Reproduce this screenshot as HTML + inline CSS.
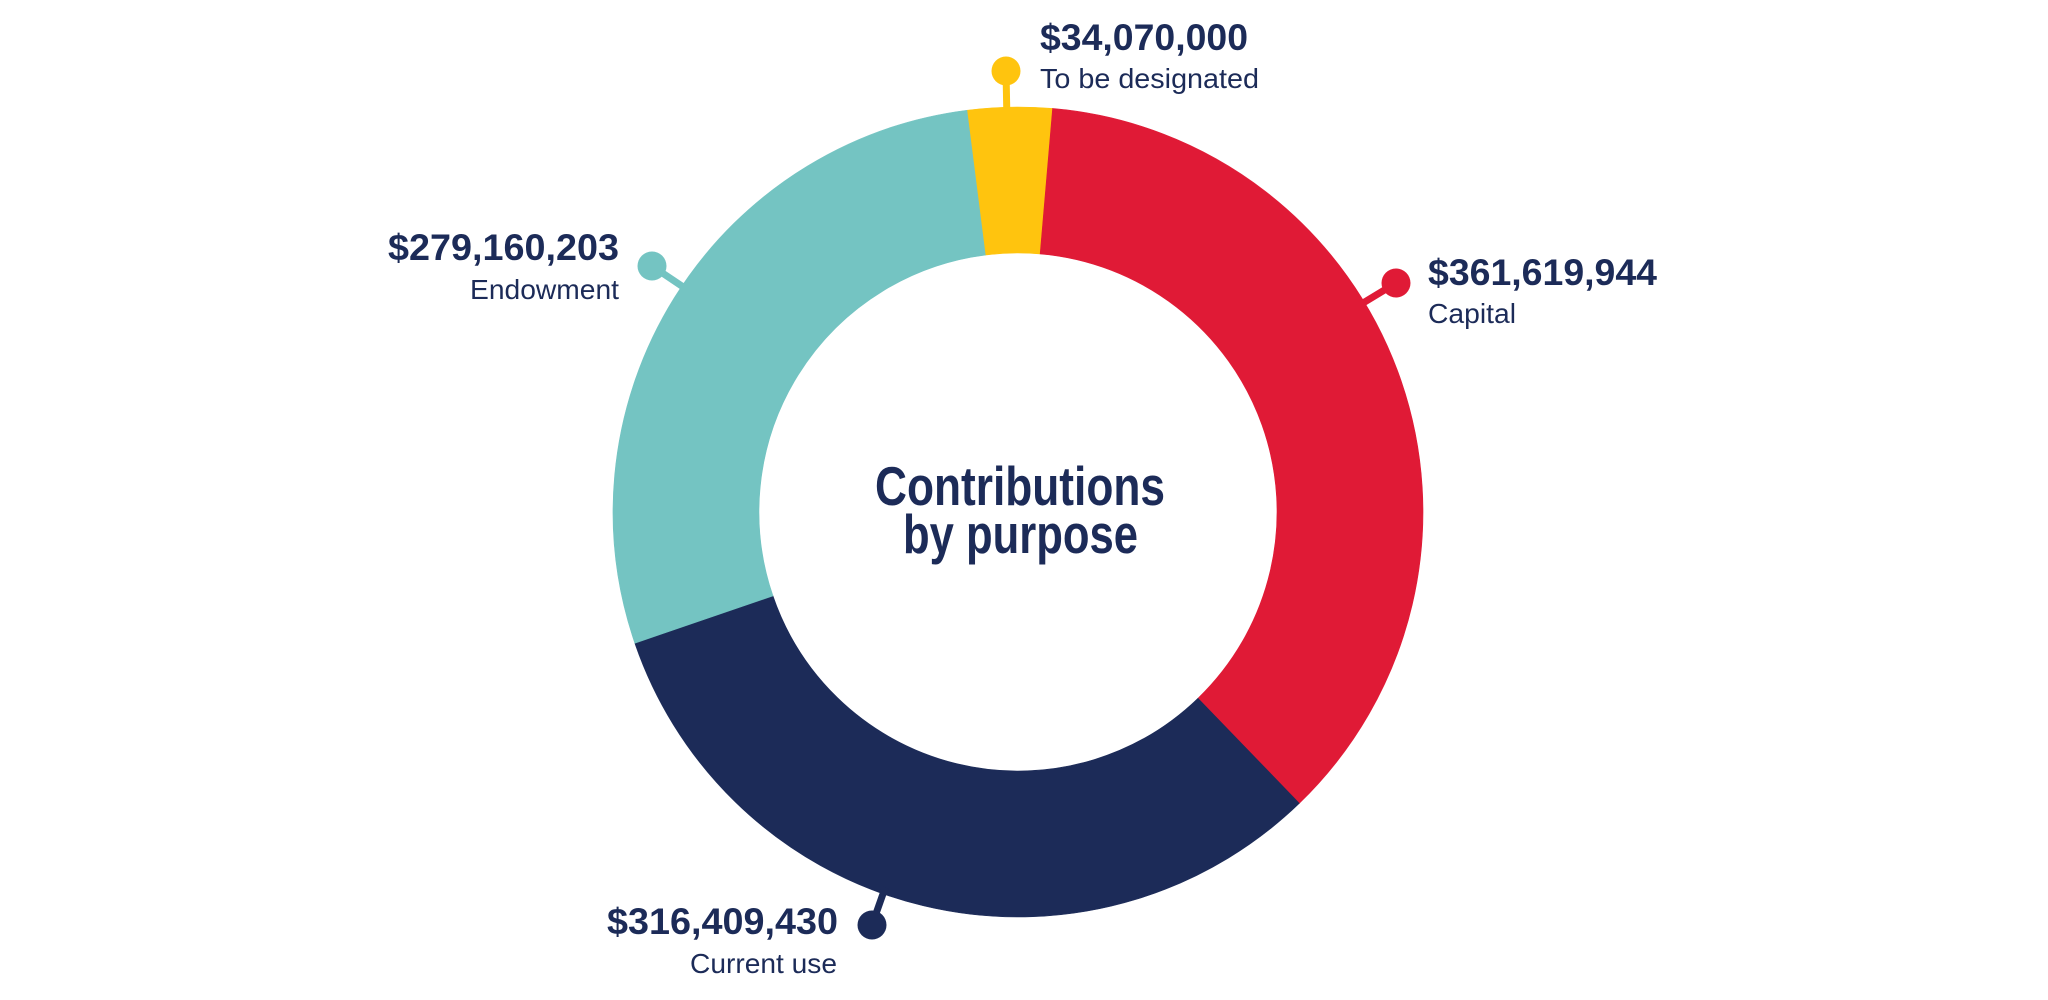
<!DOCTYPE html>
<html>
<head>
<meta charset="utf-8">
<style>
  html, body { margin: 0; padding: 0; background: #ffffff; }
  body { width: 2048px; height: 1000px; overflow: hidden; }
  svg { display: block; }
  .amt { font-family: "Liberation Sans Narrow", "Liberation Sans", sans-serif; font-weight: bold; font-size: 37px; fill: #1C2B58; }
  .lbl { font-family: "Liberation Sans Narrow", "Liberation Sans", sans-serif; font-weight: normal; font-size: 28px; fill: #1C2B58; }
  .ttl { font-family: "Liberation Sans Narrow", "Liberation Sans", sans-serif; font-weight: bold; font-size: 55px; fill: #1C2B58; }
</style>
</head>
<body>
<svg width="2048" height="1000" viewBox="0 0 2048 1000" xmlns="http://www.w3.org/2000/svg">
  <rect x="0" y="0" width="2048" height="1000" fill="#ffffff"/>

  <!-- Donut segments -->
  <path d="M 966.89 110.24 A 405 405 0 0 1 1052.60 108.48 L 1040.12 253.95 A 259 259 0 0 0 985.31 255.07 Z" fill="#FFC40E" stroke="#FFC40E" stroke-width="0.6"/>
  <path d="M 1052.60 108.48 A 405 405 0 0 1 1299.34 803.33 L 1197.92 698.31 A 259 259 0 0 0 1040.12 253.95 Z" fill="#E01A36" stroke="#E01A36" stroke-width="0.6"/>
  <path d="M 1299.34 803.33 A 405 405 0 0 1 634.83 643.19 L 772.96 595.90 A 259 259 0 0 0 1197.92 698.31 Z" fill="#1C2B58" stroke="#1C2B58" stroke-width="0.6"/>
  <path d="M 634.83 643.19 A 405 405 0 0 1 966.89 110.24 L 985.31 255.07 A 259 259 0 0 0 772.96 595.90 Z" fill="#74C4C2" stroke="#74C4C2" stroke-width="0.6"/>

  <!-- Connectors -->
  <line x1="1006.8" y1="112" x2="1006" y2="71" stroke="#FFC40E" stroke-width="7"/>
  <circle cx="1006" cy="71" r="14.5" fill="#FFC40E"/>

  <line x1="685.2" y1="288.3" x2="652" y2="266" stroke="#74C4C2" stroke-width="7"/>
  <circle cx="652" cy="266" r="14.5" fill="#74C4C2"/>

  <line x1="1361.8" y1="303.7" x2="1396" y2="283" stroke="#E01A36" stroke-width="7"/>
  <circle cx="1396" cy="283" r="14.5" fill="#E01A36"/>

  <line x1="885.3" y1="887.3" x2="872" y2="925" stroke="#1C2B58" stroke-width="7"/>
  <circle cx="872" cy="925" r="14.5" fill="#1C2B58"/>

  <!-- Labels -->
  <text class="amt" x="1040" y="50" textLength="208" lengthAdjust="spacingAndGlyphs">$34,070,000</text>
  <text class="lbl" x="1040" y="88" textLength="219" lengthAdjust="spacingAndGlyphs">To be designated</text>

  <text class="amt" x="388" y="260" textLength="231" lengthAdjust="spacingAndGlyphs">$279,160,203</text>
  <text class="lbl" x="470" y="299" textLength="149" lengthAdjust="spacingAndGlyphs">Endowment</text>

  <text class="amt" x="1428" y="285" textLength="229" lengthAdjust="spacingAndGlyphs">$361,619,944</text>
  <text class="lbl" x="1428" y="323" textLength="88" lengthAdjust="spacingAndGlyphs">Capital</text>

  <text class="amt" x="607" y="934" textLength="231" lengthAdjust="spacingAndGlyphs">$316,409,430</text>
  <text class="lbl" x="690" y="973" textLength="147" lengthAdjust="spacingAndGlyphs">Current use</text>

  <!-- Center title -->
  <text class="ttl" x="875" y="505" textLength="290" lengthAdjust="spacingAndGlyphs">Contributions</text>
  <text class="ttl" x="903" y="553" textLength="235" lengthAdjust="spacingAndGlyphs">by purpose</text>
</svg>
</body>
</html>
